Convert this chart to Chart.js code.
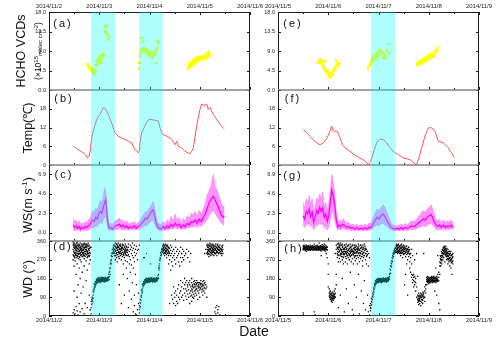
<!DOCTYPE html>
<html><head><meta charset="utf-8">
<script src="https://cdn.jsdelivr.net/npm/chart.js@4.4.1/dist/chart.umd.min.js"></script>
<style>
html,body{margin:0;padding:0;background:#fff;}
#wrap{position:relative;width:500px;height:344px;overflow:hidden;font-family:"Liberation Sans",Arial,sans-serif;color:#111;}
#wrap canvas{position:absolute;left:0;top:0;}
.t{position:absolute;white-space:nowrap;line-height:1;transform:translate(-50%,-50%);}
.rot{transform:translate(-50%,-50%) rotate(-90deg);}
.lab{font-size:11px;letter-spacing:2px;}
.sm sup{font-size:6px;vertical-align:3px;}
.sm sub{font-size:6px;vertical-align:-1px;}
.ws sup{font-size:8px;vertical-align:5px;}
</style></head><body>
<div id="wrap">
<canvas id="pa" width="500" height="344"></canvas>
<canvas id="pb" width="500" height="344"></canvas>
<canvas id="pc" width="500" height="344"></canvas>
<canvas id="pd" width="500" height="344"></canvas>
<canvas id="pe" width="500" height="344"></canvas>
<canvas id="pf" width="500" height="344"></canvas>
<canvas id="pg" width="500" height="344"></canvas>
<canvas id="ph" width="500" height="344"></canvas>
<div class="t rot" style="left:21px;top:51px;font-size:12.5px">HCHO VCDs</div>
<div class="t rot sm" style="left:38px;top:51px;font-size:8.5px">(×10<sup>15</sup><sub>molec cm</sub><sup>-2</sup>)</div>
<div class="t rot" style="left:28px;top:128px;font-size:12.5px">Temp(℃)</div>
<div class="t rot ws" style="left:28px;top:205px;font-size:12.5px">WS(m s<sup>-1</sup>)</div>
<div class="t rot" style="left:28px;top:279px;font-size:12.5px">WD (°)</div>
<div class="t" style="left:254px;top:331px;font-size:14px">Date</div>
<div class="t lab" style="left:63px;top:23px">(a)</div>
<div class="t lab" style="left:64px;top:98px">(b)</div>
<div class="t lab" style="left:64px;top:174px">(c)</div>
<div class="t lab" style="left:63px;top:246px">(d)</div>
<div class="t lab" style="left:293px;top:23px">(e)</div>
<div class="t lab" style="left:293px;top:98px">(f)</div>
<div class="t lab" style="left:293px;top:175px">(g)</div>
<div class="t lab" style="left:294px;top:248px">(h)</div>
</div>
<script>
// ---- tick labels / categories ----
const leftDates = ['2014/11/2','2014/11/3','2014/11/4','2014/11/5','2014/11/6'];
const rightDates = ['2014/11/5','2014/11/6','2014/11/7','2014/11/8','2014/11/9'];
const hchoTicks = [0,4.5,9,13.5,18];
const tempTicks = [0,6,12,18];
const wsTicks = [0,2.3,4.6,6.9];
const wdTicks = [0,90,180,270,360];
// shaded periods (days since column start)
const bandsLeft = [[0.835,1.318],[1.79,2.265]];
const bandsRight = [[1.85,2.34]];

// ---- HCHO VCDs [day, value] ----
const hchoLeft = [[0.766,5.9],[0.786,5.6],[0.802,5.3],[0.816,4.9],[0.836,4.6],[0.846,5.0],[0.856,4.4],[0.870,4.8],[0.882,3.9],[0.896,4.3],[0.909,3.6],[0.921,4.6],[0.935,5.7],[0.949,6.6],[0.961,5.9],[0.975,7.2],[0.989,6.5],[1.001,7.6],[1.015,6.9],[1.029,7.9],[1.041,6.3],[1.055,7.4],[1.069,8.2],[1.081,7.7],[1.095,8.3],[1.108,13.6],[1.120,14.6],[1.134,13.3],[1.148,14.9],[1.160,12.8],[1.174,11.6],[1.194,12.3],
[1.785,4.9],[1.801,6.3],[1.811,7.8],[1.825,8.6],[1.837,9.4],[1.851,12.0],[1.865,11.2],[1.877,9.1],[1.891,9.7],[1.904,8.9],[1.916,9.5],[1.930,8.7],[1.944,9.2],[1.956,8.4],[1.970,8.9],[1.984,8.2],[1.996,8.7],[2.010,8.0],[2.024,8.5],[2.036,7.8],[2.050,8.3],[2.064,7.4],[2.076,8.6],[2.090,8.1],[2.104,8.8],[2.116,8.3],[2.129,9.1],[2.135,6.2],[2.149,9.7],[2.163,11.3],[2.175,10.8],
[2.766,4.9],[2.780,5.6],[2.792,6.1],[2.806,5.3],[2.820,5.9],[2.832,6.4],[2.846,5.5],[2.860,6.2],[2.872,6.8],[2.886,6.0],[2.900,6.6],[2.912,7.2],[2.925,6.4],[2.939,7.0],[2.951,7.5],[2.965,6.8],[2.979,7.3],[2.991,7.0],[3.005,7.6],[3.019,7.1],[3.031,7.4],[3.045,7.8],[3.059,7.2],[3.071,7.5],[3.085,7.1],[3.098,7.7],[3.110,7.3],[3.124,7.9],[3.138,8.4],[3.150,7.6],[3.164,8.1],[3.178,8.8],[3.190,8.3],[3.204,7.9]];
const hchoRight = [[0.802,6.3],[0.816,6.8],[0.830,6.5],[0.842,7.0],[0.856,6.6],[0.870,6.2],[0.882,5.8],[0.896,6.7],[0.909,5.4],[0.921,4.8],[0.935,6.6],[0.949,4.5],[0.961,4.2],[0.975,4.6],[0.989,3.9],[1.001,4.3],[1.015,3.5],[1.029,3.0],[1.041,3.6],[1.055,2.9],[1.069,3.8],[1.081,4.2],[1.095,3.6],[1.108,4.5],[1.120,5.0],[1.134,4.7],[1.148,5.4],[1.160,6.8],[1.174,5.9],[1.188,6.3],[1.200,5.7],[1.214,6.1],
[1.797,5.1],[1.811,5.5],[1.831,5.9],[1.851,6.4],[1.871,6.9],[1.885,7.3],[1.897,6.7],[1.910,7.8],[1.930,7.2],[1.944,8.1],[1.956,7.6],[1.970,8.4],[1.990,7.9],[2.010,8.8],[2.030,9.5],[2.044,8.2],[2.056,9.0],[2.076,7.4],[2.090,8.6],[2.110,7.7],[2.129,8.0],[2.149,7.3],[2.169,9.2],[2.195,10.6],[2.209,8.5],
[2.766,5.9],[2.780,6.3],[2.792,5.7],[2.806,6.1],[2.820,6.6],[2.832,6.0],[2.846,6.4],[2.860,6.9],[2.872,6.2],[2.886,6.7],[2.900,7.1],[2.912,6.5],[2.925,7.0],[2.939,7.5],[2.951,6.8],[2.965,7.3],[2.979,7.8],[2.991,7.1],[3.005,7.6],[3.019,8.1],[3.031,7.4],[3.045,7.9],[3.059,8.3],[3.071,7.7],[3.085,8.2],[3.104,7.8],[3.124,8.6],[3.144,9.2],[3.164,9.0],[3.184,9.7]];

// ---- Temperature [day, degC] ----
const tempLeft = [[0.484,6.0],[0.551,5.2],[0.617,4.6],[0.683,3.9],[0.736,3.0],[0.762,2.3],[0.802,2.8],[0.816,4.5],[0.830,6.0],[0.850,8.7],[0.882,10.8],[0.915,12.8],[0.949,14.6],[0.981,15.4],[1.015,16.2],[1.049,17.3],[1.081,18.4],[1.114,18.2],[1.148,17.2],[1.180,16.2],[1.214,14.8],[1.248,13.5],[1.280,11.8],[1.313,10.3],[1.379,9.2],[1.447,8.7],[1.512,8.2],[1.578,7.6],[1.646,7.1],[1.677,6.0],[1.711,4.9],[1.745,4.6],[1.777,3.9],[1.797,4.4],[1.811,7.1],[1.845,10.3],[1.877,11.5],[1.910,12.5],[1.944,13.6],[1.976,14.4],[2.010,14.6],[2.076,14.4],[2.129,14.3],[2.175,14.1],[2.209,11.9],[2.239,10.6],[2.263,9.8],[2.342,9.2],[2.388,8.8],[2.442,8.2],[2.474,7.2],[2.507,6.5],[2.541,7.6],[2.573,6.0],[2.641,5.5],[2.706,4.4],[2.772,3.9],[2.806,3.6],[2.840,4.4],[2.872,5.5],[2.906,9.0],[2.939,12.5],[2.971,15.3],[3.005,17.8],[3.039,19.5],[3.085,19.0],[3.139,19.5],[3.171,17.8],[3.204,18.4],[3.270,16.2],[3.337,14.6],[3.403,13.0],[3.483,11.6]];
const tempRight = [[0.503,11.4],[0.571,10.3],[0.637,9.2],[0.697,8.2],[0.736,7.6],[0.796,6.8],[0.836,6.5],[0.901,7.1],[0.969,8.4],[1.035,10.8],[1.069,12.5],[1.095,11.0],[1.134,10.8],[1.180,10.8],[1.234,8.7],[1.284,6.5],[1.333,5.5],[1.433,4.4],[1.493,3.6],[1.566,2.8],[1.632,2.2],[1.698,1.7],[1.751,1.0],[1.797,0.1],[1.845,1.2],[1.897,3.9],[1.964,7.1],[2.030,8.2],[2.096,8.2],[2.163,7.1],[2.229,5.5],[2.295,4.4],[2.394,3.3],[2.494,2.3],[2.627,1.7],[2.726,0.4],[2.760,0.1],[2.792,1.7],[2.860,5.5],[2.925,9.2],[2.991,11.9],[3.059,11.9],[3.124,10.8],[3.190,7.6],[3.290,7.1],[3.389,5.5],[3.423,4.4],[3.457,3.9],[3.489,2.8],[3.503,2.3]];

// ---- Wind speed [day, low, mean, high] ----
const wsLeft = [[0.48,0.3,0.9,1.7],[0.51,0.2,0.6,1.3],[0.54,0.4,0.8,1.5],[0.57,0.2,0.5,1.1],[0.60,0.3,0.7,1.4],[0.63,0.1,0.4,0.9],[0.66,0.3,0.6,1.2],[0.69,0.2,0.5,1.0],[0.72,0.3,0.7,1.3],[0.75,0.2,0.6,1.2],[0.78,0.3,0.8,1.5],[0.81,0.4,0.9,1.6],[0.84,0.5,1.2,2.1],[0.87,0.6,1.5,2.6],[0.90,0.5,1.3,2.4],[0.93,0.8,1.8,2.9],[0.96,0.7,1.6,2.7],[0.99,1.0,2.2,3.3],[1.02,1.2,2.5,3.8],[1.05,1.0,2.3,3.5],[1.08,1.5,3.0,4.3],[1.11,1.8,3.6,5.4],[1.13,2.0,3.9,4.8],[1.15,1.2,2.5,3.6],[1.17,0.5,1.2,2.0],[1.20,0.2,0.5,1.0],[1.23,0.3,0.6,1.1],[1.26,0.2,0.4,0.9],[1.30,0.3,0.7,1.3],[1.33,0.4,0.8,1.4],[1.37,0.3,0.9,1.6],[1.40,0.5,1.0,1.7],[1.44,0.3,0.7,1.3],[1.47,0.4,0.9,1.5],[1.51,0.3,0.6,1.2],[1.55,0.4,0.8,1.4],[1.58,0.3,0.5,1.0],[1.62,0.4,0.7,1.2],[1.66,0.3,0.6,1.1],[1.70,0.4,0.8,1.3],[1.74,0.3,0.5,1.0],[1.77,0.4,0.7,1.2],[1.80,0.4,0.8,1.3],[1.83,0.5,1.0,1.6],[1.86,0.6,1.2,1.9],[1.89,0.7,1.4,2.2],[1.92,0.9,1.7,2.5],[1.95,0.8,1.6,2.4],[1.98,1.0,1.9,2.8],[2.01,1.2,2.2,3.0],[2.04,1.4,2.5,3.3],[2.07,1.5,2.7,3.7],[2.10,1.1,2.1,3.0],[2.13,0.6,1.2,2.0],[2.17,0.3,0.6,1.1],[2.20,0.2,0.5,1.0],[2.23,0.2,0.4,0.9],[2.27,0.3,0.7,1.3],[2.31,0.2,0.5,1.0],[2.35,0.4,0.8,1.5],[2.39,0.3,0.6,1.2],[2.43,0.5,1.0,1.9],[2.47,0.4,0.7,1.4],[2.51,0.6,1.1,2.2],[2.55,0.4,0.8,1.5],[2.59,0.5,1.0,1.8],[2.63,0.3,0.6,1.2],[2.67,0.5,0.9,1.7],[2.71,0.4,0.7,1.3],[2.75,0.6,1.1,2.0],[2.79,0.5,0.9,1.7],[2.83,0.7,1.3,2.3],[2.87,0.6,1.2,2.1],[2.91,0.8,1.5,2.5],[2.95,0.6,1.1,2.0],[2.99,0.9,1.6,2.6],[3.03,0.7,1.3,2.2],[3.07,1.0,1.8,2.8],[3.11,1.2,2.2,3.4],[3.15,1.6,2.9,4.5],[3.19,2.0,3.6,5.0],[3.23,2.4,4.0,5.6],[3.27,2.6,4.3,6.9],[3.31,2.2,3.8,5.4],[3.35,1.8,3.3,5.0],[3.39,1.5,2.7,4.2],[3.43,1.1,2.1,3.4],[3.47,0.9,1.8,3.0],[3.49,1.0,2.0,3.2]];
const wsRight = [[0.50,0.8,2.0,3.6],[0.53,0.6,1.6,2.9],[0.56,1.0,2.5,4.0],[0.59,0.9,2.2,3.5],[0.62,1.1,2.8,4.4],[0.65,0.7,1.9,3.3],[0.68,0.9,2.4,4.0],[0.71,0.3,1.2,2.5],[0.74,0.6,1.8,3.2],[0.77,1.0,2.6,4.1],[0.80,0.8,2.3,3.7],[0.83,1.2,3.0,4.6],[0.86,0.9,2.5,4.0],[0.89,1.1,2.9,4.8],[0.92,0.5,1.8,3.2],[0.95,0.8,2.2,3.6],[0.98,0.3,1.3,2.6],[1.01,0.6,2.0,3.4],[1.04,1.5,3.6,5.0],[1.07,2.5,5.0,6.9],[1.10,2.2,4.3,6.0],[1.13,1.4,3.2,4.5],[1.16,0.6,1.5,2.5],[1.19,0.3,0.7,1.2],[1.22,0.4,0.9,1.5],[1.25,0.3,0.7,1.3],[1.29,0.5,1.0,1.6],[1.33,0.4,0.8,1.4],[1.37,0.3,0.6,1.1],[1.41,0.4,0.7,1.2],[1.45,0.2,0.5,0.9],[1.49,0.3,0.6,1.0],[1.53,0.2,0.4,0.8],[1.57,0.3,0.6,1.0],[1.61,0.2,0.4,0.8],[1.65,0.3,0.5,0.9],[1.69,0.2,0.4,0.8],[1.73,0.3,0.6,1.0],[1.77,0.2,0.4,0.8],[1.81,0.3,0.6,1.1],[1.85,0.3,0.6,1.1],[1.89,0.5,1.0,1.7],[1.93,0.7,1.4,2.3],[1.97,0.9,1.8,2.8],[2.01,0.8,1.6,2.6],[2.05,1.0,2.0,3.0],[2.09,1.1,2.2,3.3],[2.13,0.9,1.9,3.0],[2.17,0.7,1.4,2.4],[2.21,0.5,1.0,1.8],[2.25,0.3,0.6,1.1],[2.29,0.2,0.5,0.9],[2.33,0.2,0.4,0.8],[2.37,0.3,0.5,0.9],[2.41,0.2,0.4,0.8],[2.45,0.3,0.6,1.0],[2.49,0.2,0.4,0.8],[2.53,0.3,0.6,1.1],[2.57,0.2,0.5,0.9],[2.61,0.3,0.6,1.1],[2.65,0.4,0.8,1.4],[2.69,0.3,0.7,1.3],[2.73,0.4,0.8,1.4],[2.77,0.5,1.0,1.7],[2.81,0.6,1.2,2.0],[2.85,0.7,1.4,2.3],[2.89,0.8,1.6,2.6],[2.93,0.7,1.5,2.4],[2.97,0.9,1.8,2.8],[3.01,1.0,2.0,3.0],[3.05,1.1,2.1,3.3],[3.09,0.8,1.6,2.6],[3.13,0.5,1.0,1.8],[3.17,0.3,0.7,1.3],[3.21,0.4,0.9,1.6],[3.25,0.3,0.6,1.2],[3.29,0.5,0.9,1.5],[3.33,0.3,0.6,1.2],[3.37,0.4,0.8,1.4],[3.41,0.3,0.7,1.3],[3.45,0.5,0.9,1.5],[3.49,0.3,0.6,1.2]];

// ---- Wind direction [day, degrees...] ----
const wdLeft = [[0.48,320,295,340,355,270,15],[0.50,305,335,285,350,240,30,120],[0.52,315,290,345,330,265,10],[0.54,300,340,325,280,200,45],[0.56,335,310,290,355,250,25,90],[0.58,320,345,300,275,150,5],[0.60,310,285,340,330,230,60],[0.62,325,300,350,270,180,20],[0.64,295,335,315,260,110],[0.66,340,305,320,285,210,35],[0.68,315,290,345,330,140],[0.70,300,325,350,275,240,10],[0.72,330,310,285,345,60],[0.74,320,295,340,265,170],[0.76,305,335,310,280,220,40],[0.78,325,300,350,290],[0.80,315,340,285,250,100],[0.82,330,300,270,30],
[0.84,70,40,330,10],[0.86,60,90,75],[0.88,100,120,85],[0.90,140,125,155],[0.92,150,165,140],[0.94,160,172,155],[0.96,165,178,158,172],[0.98,170,182,163,176],[1.00,174,166,185,170],[1.02,168,180,175,160],[1.04,176,170,186,165],[1.06,172,182,166,178],[1.08,178,168,184,174],[1.10,170,180,163,176],[1.12,175,185,168,172],[1.14,172,180,166,178],[1.16,176,170,184],[1.18,178,172,188],[1.20,190,210,175],[1.22,230,250,200],[1.24,270,290,250],[1.26,300,320,285],[1.28,315,330,300,340],[1.30,320,340,305,290],
[1.32,310,335,290,350,270],[1.34,325,300,345,280],[1.36,315,340,295,330,260],[1.38,305,330,350,285],[1.40,320,300,340,275,150],[1.42,335,310,290,345],[1.44,315,325,300,270,60],[1.46,330,305,345,285],[1.48,320,295,340,250,200],[1.50,310,330,280,100],[1.52,325,300,345,265],[1.54,315,290,335,230],[1.56,320,305,260,180],[1.58,330,295,345,40],[1.60,310,285,250,120],[1.62,320,340,270,210],[1.64,300,330,245,80],[1.66,315,290,350,160],[1.68,325,280,230,20],[1.70,305,340,260,50,100],[1.72,320,290,10,200],[1.74,300,335,150,5],[1.76,315,270,30],[1.78,60,110,320],
[1.80,30,50,15,340],[1.82,60,80,45],[1.84,100,90,125],[1.86,130,150,115],[1.88,155,165,145,280],[1.90,160,172,152,280],[1.92,165,176,158],[1.94,170,162,180,300],[1.96,168,178,160,172],[1.98,174,165,182],[2.00,170,180,163,176],[2.02,172,166,184,250],[2.04,176,168,182],[2.06,170,178,162,174],[2.08,168,180,172],[2.10,174,164,182,176],[2.12,170,178,166],[2.14,176,170,184,168],[2.16,172,180,178],[2.18,200,180,230],[2.20,250,270,230],[2.22,290,305,275],[2.24,310,320,295],[2.26,320,335,305],
[2.28,315,330,300,345],[2.30,320,305,340,290],[2.32,325,310,345,300],[2.34,315,335,295,280],[2.36,320,300,340],[2.38,310,330,290,250],[2.40,325,300,270,60],[2.42,315,290,340,220],[2.44,300,330,260,100],[2.46,310,280,240,80],[2.48,320,290,60,140],[2.50,300,270,90,110],[2.52,330,250,50,120],[2.54,310,280,100,70],[2.56,290,320,130,60],[2.58,300,260,90,150],[2.60,310,240,80,110],[2.62,280,330,120,170],[2.64,300,260,140,90],[2.66,320,280,160,100],[2.68,270,310,130,75],[2.70,290,150,110,180],[2.72,300,130,95,160],[2.74,320,170,120,80],[2.76,280,140,105,150],[2.78,310,160,125,90],[2.80,260,150,110,170,60],[2.82,300,140,120,95],[2.84,130,160,100,180,70],[2.86,150,115,140,90],[2.88,135,165,105,85],[2.90,150,120,170,95],[2.92,140,160,110,125],[2.94,155,130,100,170],[2.96,145,120,160,80],[2.98,135,150,110],[3.00,160,125,140,90],[3.02,150,170,130],[3.04,140,115,155],[3.06,165,130,150,100],[3.08,145,120,170],[3.10,160,135,110,300],[3.12,150,130,320],[3.14,300,140,340,90],[3.16,310,330,295,345],[3.18,320,300,340,285],[3.20,315,335,295,350],[3.22,325,305,345,290],[3.24,310,330,300,340],[3.26,320,295,345,315],[3.28,330,305,290,340],[3.30,315,335,300,20],[3.32,325,300,345,40,10],[3.34,310,330,290,50],[3.36,320,345,305,30,15],[3.38,330,300,315,45],[3.40,320,340,305,5],[3.42,325,300,310],[3.44,315,335,290],[3.46,320,300,340]];
const wdLeftMore = [[0.49,310,330,290,345],[0.51,325,300,340,280],[0.53,305,335,320,295],[0.55,330,290,315,350],[0.57,300,325,340,285],[0.59,335,310,295,320],[0.61,315,340,300,280],[0.63,305,330,320,290],[0.65,325,295,345,310],[0.67,300,335,315,285],[0.69,320,305,340,295],[0.71,310,330,290,345],[0.73,300,320,335,310],[0.75,330,295,315,345],[0.77,310,340,300,285],[0.79,320,300,335],[0.81,305,325,290],
[0.85,55,80],[0.87,85,70],[0.89,115,130],[0.91,135,150],[0.93,148,160],[0.95,162,170,176],[0.97,168,175,180],[0.99,172,166,178],[1.01,170,176,164],[1.03,174,180,168],[1.05,166,172,180],[1.07,170,176,184],[1.09,172,166,178],[1.11,176,170,182],[1.13,168,174,180],[1.15,172,178],[1.17,180,170],[1.19,185,200],[1.21,215,230],[1.23,255,265],[1.25,285,300],[1.27,305,320],[1.29,325,310],
[1.31,320,300,335],[1.33,315,330,290],[1.35,305,325,345],[1.37,320,295,335],[1.39,310,330,285],[1.41,325,305,340],[1.43,300,320,335],[1.45,315,295,330],[1.47,325,305,340],[1.49,300,320,290],[1.51,315,335,305],[1.53,320,295,310],[1.55,305,330],[1.57,315,290],
[1.81,40,65],[1.83,75,95],[1.85,110,120],[1.87,140,155],[1.89,150,162],[1.91,168,158,175],[1.93,172,164,180],[1.95,166,176],[1.97,170,180,162],[1.99,176,168],[2.01,170,178,164],[2.03,174,166,182],[2.05,168,178],[2.07,172,182,166],[2.09,176,168],[2.11,170,180,164],[2.13,174,168],[2.15,170,178],[2.17,185,195],[2.19,220,240],[2.21,265,280],[2.23,300,290],[2.25,315,325],
[2.27,310,325,340],[2.29,320,300,335],[2.31,315,330,305],[2.33,325,310,340],[2.35,305,320,335],[2.37,315,300,330],[2.39,325,305],
[2.85,125,145],[2.89,140,155],[2.93,130,150],[2.97,140,160],[3.01,135,155],[3.05,145,125],[3.09,155,135],
[3.15,320,305,335],[3.17,315,330,300],[3.19,325,310,340],[3.21,305,320,335],[3.23,315,330,300],[3.25,325,305,340],[3.27,310,320,335],[3.29,305,325,315],[3.31,320,335,300],[3.33,315,305,330],[3.35,325,310,340],[3.37,300,320,335],[3.39,315,330],[3.41,310,325],[3.43,320,300],[3.45,330,310]];
const wdRight = [[0.50,325,335,318,15],[0.52,330,320,340],[0.54,322,335,315],[0.56,328,318,340,310],[0.58,325,335,320],[0.60,330,315,338],[0.62,322,332,318],[0.64,327,340,315],[0.66,320,333,326],[0.68,330,318,338],[0.70,325,315,335],[0.72,322,332,345,20],[0.74,328,318,336,5],[0.76,324,335,316],[0.78,330,320,340],[0.80,326,315,334],[0.82,322,332,318,350],[0.84,328,338,316],[0.86,324,334,312,290],[0.88,330,320,342],[0.90,326,316,336],[0.92,320,332,345],[0.94,328,312,340],[0.96,322,335,300],[0.98,318,330,280],
[1.00,200,250,140],[1.02,110,130,95],[1.04,90,105,80,120],[1.06,85,100,70,110],[1.08,95,80,115,65],[1.10,90,105,75],[1.12,100,85,120,95],[1.14,110,90,130,300],[1.16,150,200,320,340],[1.18,300,330,280,345],[1.20,320,290,350,260,40],[1.22,310,340,275,330],[1.24,295,325,350,260,100],[1.26,315,285,340,300],[1.28,330,270,305,345,180],[1.30,300,320,280,250],[1.32,325,295,340,310,20],[1.34,310,285,330,260],[1.36,320,300,345,275,130],[1.38,305,335,290,250],[1.40,315,280,340,300,60],[1.42,325,295,310,270],[1.44,300,330,285,345,210],[1.46,320,290,260,310],[1.48,310,340,275,30],[1.50,325,295,305,250],[1.52,300,320,280,340,150],[1.54,315,290,330,265],[1.56,305,335,275,90],[1.58,320,290,310,250],[1.60,300,325,280,345,200],[1.62,315,290,260,10],[1.64,325,300,340,275],[1.66,310,285,330,120],[1.68,320,295,265,240],[1.70,305,330,280,60],[1.72,315,290,345,170],[1.74,300,325,270,30],[1.76,320,285,250],[1.78,310,295,100],[1.80,300,240,20],[1.82,280,50,5],
[1.84,40,60,25],[1.86,70,55,85],[1.88,95,80,110],[1.90,120,105,135],[1.92,145,130,155],[1.94,160,150,170],[1.96,165,175,158],[1.98,170,162,178,168],[2.00,168,176,160,172],[2.02,174,166,180],[2.04,170,162,178,175],[2.06,166,174,170,160],[2.08,172,165,180,168],[2.10,176,168,170,182],[2.12,170,178,164],[2.14,174,166,180,172],[2.16,168,176,162],[2.18,172,180,170,185],[2.20,175,168,182],[2.22,190,200,175],[2.24,220,240,205],[2.26,250,265,235],[2.28,275,290,260],[2.30,295,305,285],[2.32,310,320,300],[2.34,315,330,305],
[2.36,320,335,305,345],[2.38,325,310,340,300],[2.40,330,315,345,305],[2.42,320,335,300,310],[2.44,325,340,305,290],[2.46,315,330,300,345],[2.48,320,305,335,280],[2.50,310,325,295,340],[2.52,320,300,330,150],[2.54,305,325,285,200],[2.56,315,295,335,250],[2.58,300,320,270,100],[2.60,310,285,330],[2.62,295,320,260,230],[2.64,280,210,300],[2.66,200,185,250,320],[2.68,175,195,160,290],[2.70,185,170,200,140],[2.72,165,190,150,270],[2.74,180,160,120],[2.76,90,140,300],[2.78,80,100,65,190],[2.80,70,95,110,55],[2.82,85,60,100,75],[2.84,95,70,110,50],[2.86,80,105,65,90],[2.88,100,75,115,60],[2.90,85,110,95,300],[2.92,120,90,140,70],[2.94,150,130,110],[2.96,165,175,150,185],[2.98,170,180,160,190],[3.00,175,165,185,155],[3.02,170,182,160,178],[3.04,168,185,175,160],[3.06,180,170,190,165],[3.08,175,160,185,172],[3.10,170,180,165,190],[3.12,178,168,185,120],[3.14,172,185,160,230],[3.16,180,170,190,100],[3.18,175,165,200,290],[3.20,185,210,170,60],[3.22,240,260,200,30],[3.24,270,255,285,240],[3.26,280,300,265,250],[3.28,300,285,315,270],[3.30,310,295,325,280],[3.32,315,300,330,260],[3.34,320,305,335,290],[3.36,310,325,295,270],[3.38,300,320,285,250],[3.40,290,310,275,260],[3.42,280,300,265,240],[3.44,290,270,310,230],[3.46,275,295,260,200],[3.48,285,265,300,250]];
const wdRightMore = [[0.51,328,320,336],[0.53,324,332],[0.55,330,318,326],[0.57,322,334],[0.59,326,318,332],[0.61,324,336],[0.63,330,320,326],[0.65,318,328,334],[0.67,326,322],[0.69,332,320,328],[0.71,324,330],[0.73,318,326,334],[0.75,328,322],[0.77,324,332,318],[0.79,326,336],[0.81,320,330,326],[0.83,330,324],[0.85,318,328,336],[0.87,326,322],[0.89,332,324,318],[0.91,328,322],[0.93,324,334,316],[0.95,326,320],[0.97,330,318],
[1.03,100,115,88],[1.05,92,80,104],[1.07,88,100,75],[1.09,98,85,110],[1.11,94,82,106],[1.13,105,92],
[1.19,310,325,295],[1.21,330,305,345],[1.23,315,290,335],[1.25,300,320,340],[1.27,320,295,310],[1.29,335,305,285],[1.31,310,325,295],[1.33,320,300,340],[1.35,305,330,285],[1.37,325,310,295],[1.39,315,290,335],[1.41,300,320,340],[1.43,310,325,290],[1.45,330,305,315],[1.47,295,320,335],[1.49,315,300,340],[1.51,325,290,310],[1.53,305,330,285],[1.55,320,300,340],[1.57,310,325,290],[1.59,330,305,315],[1.61,300,320,335],[1.63,315,290,305],[1.65,325,300,340],[1.67,310,330,285],[1.69,320,300,340],[1.71,305,325,290],[1.73,315,335],[1.75,300,320],[1.77,310,290],
[1.85,50,35],[1.87,65,78],[1.89,90,100],[1.91,115,128],[1.93,140,150],[1.95,155,165],[1.97,168,174,160],[1.99,172,166,180],[2.01,170,178,164],[2.03,166,176,172],[2.05,174,168,180],[2.07,170,162,178],[2.09,176,168],[2.11,172,180,166],[2.13,168,176],[2.15,174,170,182],[2.17,166,178],[2.19,172,180],[2.21,180,188],[2.23,205,225],[2.25,240,255],[2.27,265,280],[2.29,285,300],[2.31,305,315],[2.33,312,325],
[2.35,325,310,340],[2.37,318,332,305],[2.39,328,312,340],[2.41,322,335,308],[2.43,315,330,300],[2.45,325,340,310],[2.47,318,305,332],[2.49,328,315,300],[2.51,320,335,310],[2.53,312,325,300],[2.55,320,305,335],[2.57,310,325],[2.59,305,320],[2.61,300,315],
[2.79,85,75,95],[2.81,80,92],[2.83,90,70],[2.85,88,100],[2.87,95,78],[2.89,92,105],
[2.97,172,182,166],[2.99,176,168],[3.01,170,180,162],[3.03,178,166],[3.05,172,184],[3.07,168,178],[3.09,176,170,186],[3.11,172,164],[3.13,180,170],[3.15,176,166],[3.17,170,182],
[3.23,255,275,290],[3.25,290,270,310],[3.27,305,290,320],[3.29,315,300,330],[3.31,320,305,335],[3.33,310,325,295],[3.35,300,315,285],[3.37,290,305,275],[3.39,285,300,270],[3.41,295,275,310],[3.43,280,265,300],[3.45,270,290,255],[3.47,280,260,295]];

// ---------------- drawing ----------------
const FONT = '"Liberation Sans", Arial, sans-serif';
const COLS = {L:{l:49,r:250,dates:leftDates,bands:bandsLeft}, R:{l:278,r:479,dates:rightDates,bands:bandsRight}};
const ROWS = {a:{t:12,b:90}, b:{t:90,b:165}, c:{t:165,b:241}, d:{t:241,b:316}};
const YW = 30, XH = 12;

function pts(arr){ return arr.map(p => ({x:p[0], y:p[1]})); }
function col(arr, i){ return arr.map(p => ({x:p[0], y:p[i]})); }
function wdPts(groups){ const out=[]; groups.forEach(g => { for (let i=1;i<g.length;i++) out.push({x:g[0], y:g[i]}); }); return out; }

function framePlugin(o){
  return {
    id:'frame'+Math.random().toString(36).slice(2),
    afterDatasetsDraw(chart){
      const ctx=chart.ctx, a=chart.chartArea, xs=chart.scales.x, ys=chart.scales.y;
      const L=a.left, R=a.right, T=a.top, B=a.bottom;
      ctx.save();
      ctx.lineWidth=1; ctx.strokeStyle='#1a1a1a';
      ctx.beginPath();
      ctx.moveTo(L+0.5,T); ctx.lineTo(L+0.5,B);
      ctx.moveTo(R-0.5,T); ctx.lineTo(R-0.5,B);
      o.yTicks.forEach(v => { const y=Math.round(ys.getPixelForValue(v))+0.5; ctx.moveTo(L,y); ctx.lineTo(L+3,y); ctx.moveTo(R-3,y); ctx.lineTo(R,y); });
      for (let v=0; v<=4; v+=0.5){ const x=Math.round(xs.getPixelForValue(v))+0.5; const len=(v%1===0)?3:2; ctx.moveTo(x,B); ctx.lineTo(x,B-len); if(o.top){ ctx.moveTo(x,T); ctx.lineTo(x,T+len); } }
      if (o.top){ ctx.moveTo(L,T+0.5); ctx.lineTo(R,T+0.5); }
      if (o.last){ ctx.moveTo(L,B-0.5); ctx.lineTo(R,B-0.5); }
      ctx.stroke();
      if (!o.last){ ctx.beginPath(); ctx.strokeStyle='#858585'; ctx.lineWidth=1.5; ctx.moveTo(L,B); ctx.lineTo(R,B); ctx.stroke(); }
      ctx.fillStyle='rgba(0,255,255,0.31)';
      o.bands.forEach(b => { const x1=xs.getPixelForValue(b[0]), x2=xs.getPixelForValue(b[1]); ctx.fillRect(x1,T,x2-x1,B-T); });
      ctx.restore();
    }
  };
}

function makePanel(id, colKey, rowKey, yMin, yMax, yTicks, yFmt, datasets){
  const c = COLS[colKey], r = ROWS[rowKey];
  const isTop = rowKey==='a', isBottom = rowKey==='d';
  new Chart(document.getElementById(id), {
    type:'line',
    data:{datasets},
    options:{
      responsive:false, animation:false, devicePixelRatio:1, events:[],
      layout:{autoPadding:false, padding:{left:c.l-YW, right:500-c.r, top:isTop?r.t-XH:r.t, bottom:isBottom?344-r.b-XH:344-r.b}},
      plugins:{legend:{display:false}, tooltip:{enabled:false}},
      scales:{
        x:{type:'linear', min:0, max:4, position:isTop?'top':'bottom',
          grid:{display:false, drawTicks:false}, border:{display:false},
          afterBuildTicks:s => { s.ticks=[0,1,2,3,4].map(v=>({value:v})); },
          ticks:{display:isTop||isBottom, autoSkip:false, maxRotation:0, padding:isTop?2.5:0.5, color:'#222', font:{family:FONT,size:6}, callback:v => c.dates[v]},
          afterFit:s => { s.height=(isTop||isBottom)?XH:0; s.paddingLeft=0; s.paddingRight=0; }},
        y:{type:'linear', min:yMin, max:yMax,
          grid:{display:false, drawTicks:false}, border:{display:false},
          afterBuildTicks:s => { s.ticks=yTicks.map(v=>({value:v})); },
          ticks:{padding:3, color:'#222', font:{family:FONT,size:5.5}, callback:yFmt},
          afterFit:s => { s.width=YW; s.paddingTop=0; s.paddingBottom=0; }}
      }
    },
    plugins:[framePlugin({yTicks, bands:c.bands, top:isTop, last:isBottom})]
  });
}

const f1 = v => Number(v).toFixed(1);
const f0 = v => String(v);

function hchoSet(arr){ return [{data:pts(arr), showLine:false, pointStyle:'rect', pointRadius:1.9, pointBackgroundColor:'#ffff00', pointBorderWidth:0, borderColor:'#ffff00'}]; }
function tempSet(arr){ return [{data:pts(arr), borderColor:'rgb(255,80,80)', borderWidth:1, pointRadius:0, tension:0}]; }
function wsSet(arr){ return [
  {data:col(arr,2), borderColor:'#ff00ff', borderWidth:1.3, pointRadius:0, fill:false},
  {data:col(arr,3), borderColor:'rgba(255,80,255,0.6)', borderWidth:0.6, pointRadius:0, fill:'+1', backgroundColor:'rgba(255,60,255,0.55)'},
  {data:col(arr,1), borderColor:'rgba(255,80,255,0.6)', borderWidth:0.6, pointRadius:0, fill:false}
]; }
function wdSet(groups, more){ return [{data:wdPts(groups).concat(wdPts(more)), showLine:false, pointStyle:'rect', pointRadius:0.9, pointBackgroundColor:'#000', pointBorderWidth:0, borderColor:'#000'}]; }

makePanel('pa','L','a',0,18,hchoTicks,f1,hchoSet(hchoLeft));
makePanel('pb','L','b',0,24,tempTicks,f0,tempSet(tempLeft));
makePanel('pc','L','c',-1,8,wsTicks,f1,wsSet(wsLeft));
makePanel('pd','L','d',0,360,wdTicks,f0,wdSet(wdLeft,wdLeftMore));
makePanel('pe','R','a',0,18,hchoTicks,f1,hchoSet(hchoRight));
makePanel('pf','R','b',0,24,tempTicks,f0,tempSet(tempRight));
makePanel('pg','R','c',-1,8,wsTicks,f1,wsSet(wsRight));
makePanel('ph','R','d',0,360,wdTicks,f0,wdSet(wdRight,wdRightMore));
</script></body></html>
